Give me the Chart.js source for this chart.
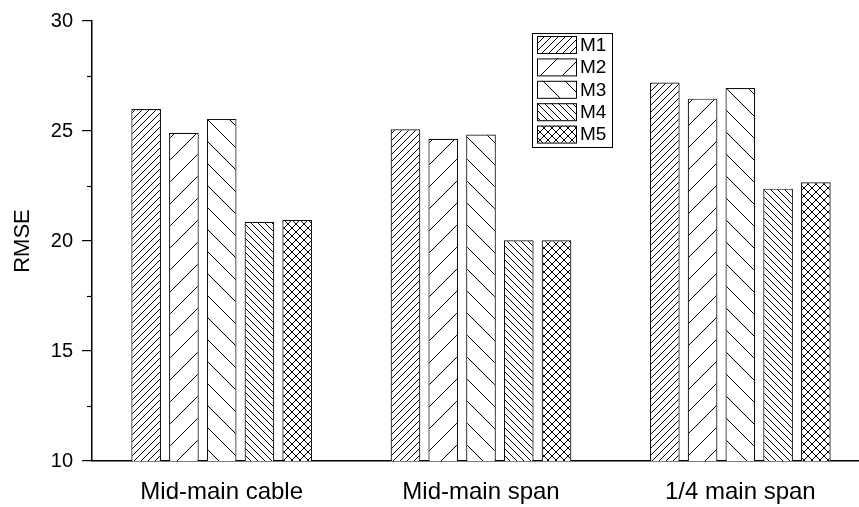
<!DOCTYPE html>
<html>
<head>
<meta charset="utf-8">
<script src="https://cdn.jsdelivr.net/npm/chart.js@4"></script>
<style>
  html, body { margin: 0; padding: 0; background: #fff; overflow: hidden; }
</style>
</head>
<body>
<canvas id="chart" width="870" height="507"></canvas>
<script>
// data
const categories = ["Mid-main cable", "Mid-main span", "1/4 main span"];
const seriesNames = ["M1", "M2", "M3", "M4", "M5"];
const m1 = [26.0, 25.08, 27.2];
const m2 = [24.92, 24.65, 26.47];
const m3 = [25.55, 24.84, 26.95];
const m4 = [20.87, 20.03, 22.38];
const m5 = [20.95, 20.03, 22.67];
const yTicks = [10, 15, 20, 25, 30];
const minorTicks = [12.5, 17.5, 22.5, 27.5];

const FONT = 'Arial, "Liberation Sans", sans-serif';

// hatch patterns
const hatch = (p, dirs) => {
  const c = document.createElement('canvas');
  c.width = c.height = p;
  const g = c.getContext('2d');
  g.fillStyle = '#fff';
  g.fillRect(0, 0, p, p);
  g.strokeStyle = '#000';
  g.lineWidth = 1;
  dirs.forEach((d) => {
    for (let k = -1; k <= 1; k++) {
      g.beginPath();
      if (d === '/') { g.moveTo(k * p, p); g.lineTo(k * p + p, 0); }
      else { g.moveTo(k * p, 0); g.lineTo(k * p + p, p); }
      g.stroke();
    }
  });
  return g.createPattern(c, 'repeat');
};

const fills = [
  hatch(7, ['/']),
  hatch(22, ['/']),
  hatch(22, ['\\']),
  hatch(7, ['\\']),
  hatch(8, ['/', '\\'])
];
const values = [m1, m2, m3, m4, m5];

// minor ticks on y axis
const minorTickPlugin = {
  id: 'minorTicks',
  afterDraw(chart) {
    const y = chart.scales.y;
    const ctx = chart.ctx;
    ctx.save();
    ctx.strokeStyle = '#000';
    ctx.lineWidth = 1.2;
    minorTicks.forEach((v) => {
      const py = Math.round(y.getPixelForValue(v)) + 0.5;
      ctx.beginPath();
      ctx.moveTo(y.right - 5, py);
      ctx.lineTo(y.right, py);
      ctx.stroke();
    });
    ctx.restore();
  }
};

// boxed legend inside the plot
const boxLegend = {
  id: 'boxLegend',
  afterDraw(chart) {
    const ctx = chart.ctx;
    const x0 = 532, y0 = 33, w = 80, h = 114;
    ctx.save();
    ctx.strokeStyle = '#000';
    ctx.lineWidth = 1;
    ctx.fillStyle = '#fff';
    ctx.fillRect(x0, y0, w, h);
    ctx.strokeRect(x0 + 0.5, y0 + 0.5, w, h);
    chart.data.datasets.forEach((ds, i) => {
      const sy = y0 + 3 + i * 22.4;
      ctx.fillStyle = ds.backgroundColor;
      ctx.fillRect(537, sy, 39, 17);
      ctx.strokeStyle = '#000';
      ctx.strokeRect(537.5, sy + 0.5, 39, 17);
      ctx.fillStyle = '#000';
      ctx.font = '19px ' + FONT;
      ctx.textBaseline = 'middle';
      ctx.fillText(ds.label, 580, sy + 9.5);
    });
    ctx.restore();
  }
};

new Chart(document.getElementById('chart'), {
  type: 'bar',
  data: {
    labels: categories,
    datasets: seriesNames.map((name, i) => ({
      label: name,
      data: values[i],
      backgroundColor: fills[i],
      borderColor: '#111',
      borderWidth: 1.2,
      borderSkipped: false,
      categoryPercentage: 0.728,
      barPercentage: 0.786
    }))
  },
  options: {
    responsive: false,
    animation: false,
    layout: { padding: { top: 21, right: 0, bottom: 0, left: 0 } },
    plugins: {
      legend: { display: false },
      tooltip: { enabled: false }
    },
    scales: {
      x: {
        grid: { display: false, drawTicks: false },
        border: { display: true, color: '#000', width: 1.5 },
        ticks: { color: '#000', font: { family: FONT, size: 24 }, padding: 17 },
        afterFit(scale) { scale.height = 46; }
      },
      y: {
        min: 10,
        max: 30,
        afterBuildTicks(scale) { scale.ticks = yTicks.map((v) => ({ value: v })); },
        grid: { drawOnChartArea: false, drawTicks: true, tickLength: 10, color: '#000', lineWidth: 1.2 },
        border: { display: true, color: '#000', width: 1.5 },
        ticks: { color: '#000', font: { family: FONT, size: 20 }, padding: 9 },
        title: {
          display: true,
          text: 'RMSE',
          color: '#000',
          font: { family: FONT, size: 22 },
          padding: { top: 10, bottom: 0 }
        },
        afterFit(scale) { scale.width = 92; }
      }
    }
  },
  plugins: [minorTickPlugin, boxLegend]
});
</script>
</body>
</html>
